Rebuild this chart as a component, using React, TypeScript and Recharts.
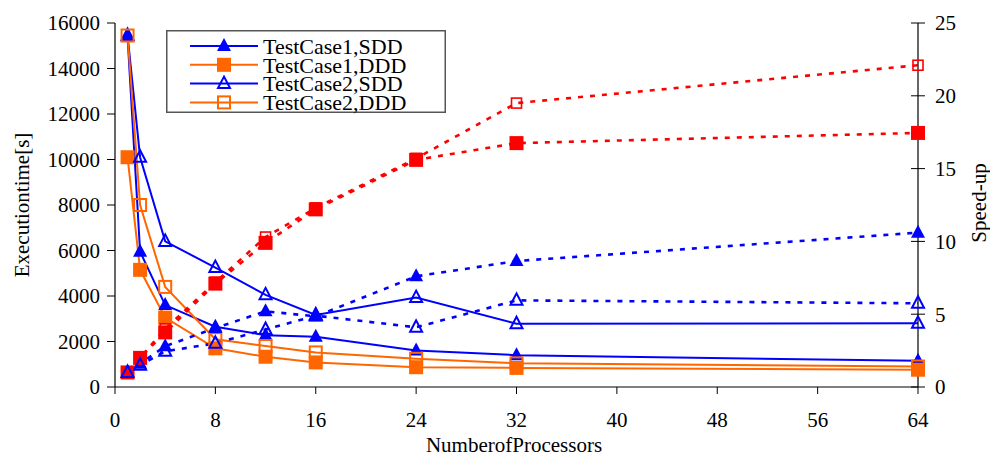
import React from "react"
import { LineChart, Line, XAxis, YAxis, Legend } from "recharts"

const FONT = '"Liberation Serif", "Times New Roman", serif'
const BLUE = "#0000ff"
const ORANGE = "#ff6600"
const RED = "#ff0000"

// number of processors
const PROCS = [1, 2, 4, 8, 12, 16, 24, 32, 64]

// execution time [s] (left axis)
const TIME_TC1_SDD = [15400, 5950, 3600, 2650, 2280, 2210, 1600, 1400, 1150]
const TIME_TC1_DDD = [10100, 5150, 3050, 1700, 1330, 1080, 870, 840, 760]
const TIME_TC2_SDD = [15450, 10100, 6400, 5250, 4050, 3170, 3930, 2780, 2800]
const TIME_TC2_DDD = [15450, 8000, 4400, 2100, 1800, 1520, 1240, 1040, 900]

// speed-up (right axis)
const SPEED_TC1_SDD = [1, 1.6, 2.8, 4.05, 5.2, 4.85, 7.6, 8.65, 10.6]
const SPEED_TC2_SDD = [1, 1.5, 2.45, 3.0, 3.95, 4.9, 4.1, 5.95, 5.75]
const SPEED_TC1_DDD = [1, 2.0, 3.75, 7.1, 9.9, 12.2, 15.6, 16.75, 17.45]
const SPEED_TC2_DDD = [1, 2.0, 4.0, 7.2, 10.3, 12.3, 15.7, 19.5, 22.1]

const X_TICKS = [0, 8, 16, 24, 32, 40, 48, 56, 64]
const LEFT_TICKS = [0, 2000, 4000, 6000, 8000, 10000, 12000, 14000, 16000]
const RIGHT_TICKS = [0, 5, 10, 15, 20, 25]

const data = PROCS.map((p, i) => ({
  p,
  t1sdd: TIME_TC1_SDD[i],
  t1ddd: TIME_TC1_DDD[i],
  t2sdd: TIME_TC2_SDD[i],
  t2ddd: TIME_TC2_DDD[i],
  s1sdd: SPEED_TC1_SDD[i],
  s2sdd: SPEED_TC2_SDD[i],
  s1ddd: SPEED_TC1_DDD[i],
  s2ddd: SPEED_TC2_DDD[i],
}))

type Marker = "tri" | "triOpen" | "sq" | "sqOpen" | "sqSmall"

function shape(m: Marker, cx: number, cy: number, color: string, key?: any) {
  if (m === "tri")
    return <path key={key} d={`M${cx},${cy - 8}L${cx - 7},${cy + 5}L${cx + 7},${cy + 5}Z`} fill={color} stroke="none" />
  if (m === "triOpen")
    return <path key={key} d={`M${cx},${cy - 7}L${cx - 6},${cy + 4.5}L${cx + 6},${cy + 4.5}Z`} fill="none" stroke={color} strokeWidth={2} />
  if (m === "sq")
    return <rect key={key} x={cx - 7} y={cy - 7} width={14} height={14} fill={color} />
  if (m === "sqOpen")
    return <rect key={key} x={cx - 6} y={cy - 6} width={12} height={12} fill="none" stroke={color} strokeWidth={2} />
  return <rect key={key} x={cx - 5} y={cy - 5} width={10} height={10} fill="none" stroke={color} strokeWidth={1.6} />
}

const dotOf = (m: Marker, color: string) => (props: any) => shape(m, props.cx, props.cy, color, props.index)

// drawing order: time curves first, speed-up on top
const SERIES = [
  { key: "t1sdd", name: "TestCase1,SDD", axis: "left", color: BLUE, dashed: false, marker: "tri" as Marker },
  { key: "t1ddd", name: "TestCase1,DDD", axis: "left", color: ORANGE, dashed: false, marker: "sq" as Marker },
  { key: "t2sdd", name: "TestCase2,SDD", axis: "left", color: BLUE, dashed: false, marker: "triOpen" as Marker },
  { key: "t2ddd", name: "TestCase2,DDD", axis: "left", color: ORANGE, dashed: false, marker: "sqOpen" as Marker },
  { key: "s1sdd", name: "", axis: "right", color: BLUE, dashed: true, marker: "tri" as Marker },
  { key: "s2ddd", name: "", axis: "right", color: RED, dashed: true, marker: "sqSmall" as Marker },
  { key: "s1ddd", name: "", axis: "right", color: RED, dashed: true, marker: "sq" as Marker },
  { key: "s2sdd", name: "", axis: "right", color: BLUE, dashed: true, marker: "triOpen" as Marker },
]

function LegendBox() {
  const rows = SERIES.filter((s) => s.name)
  return (
    <svg width={280} height={92} style={{ display: "block", overflow: "visible" }}>
      <rect x={0.75} y={0.75} width={278.5} height={81.5} fill="#fff" stroke="#555" strokeWidth={1.5} />
      {rows.map((s, i) => {
        const y = 16 + i * 18.8
        return (
          <g key={s.key}>
            <line x1={24} x2={92} y1={y} y2={y} stroke={s.color} strokeWidth={2} />
            {shape(s.marker, 58, y, s.color)}
            <text x={97} y={y} dy="0.35em" fontSize={22} fontFamily={FONT} fill="#000">{s.name}</text>
          </g>
        )
      })}
    </svg>
  )
}

function RightTick({ x, y, payload }: any) {
  return (
    <g>
      <line x1={x - 7} x2={x + 7} y1={y} y2={y} stroke="#000" strokeWidth={1} />
      <text x={x + 17} y={y} dy="0.35em" fontSize={21} fontFamily={FONT} fill="#000">{payload.value}</text>
    </g>
  )
}

const tickStyle = { fill: "#000", fontSize: 21, fontFamily: FONT }

export default function App() {
  return (
    <div style={{ position: "absolute", left: 0, top: 0, background: "#fff" }}>
      <LineChart width={990} height={462} data={data} margin={{ top: 23, right: 0, bottom: 30, left: 0 }}>
        <XAxis
          dataKey="p" type="number" domain={[0, 64]} ticks={X_TICKS} interval={0}
          axisLine={{ stroke: "#000", strokeWidth: 1.2 }} tickLine={{ stroke: "#000" }}
          tickSize={7} tickMargin={18} tick={tickStyle} height={45}
          label={{
            content: () => (
              <text x={514} y={445} dy="0.35em" textAnchor="middle" fontSize={21} fontFamily={FONT} fill="#000">
                NumberofProcessors
              </text>
            ),
          }}
        />
        <YAxis
          yAxisId="left" domain={[0, 16000]} ticks={LEFT_TICKS} interval={0} width={115}
          axisLine={{ stroke: "#000", strokeWidth: 1.2 }} tickLine={{ stroke: "#000" }}
          tickSize={8} tickMargin={7} tick={tickStyle}
          label={{
            content: () => (
              <text x={22} y={205} dy="0.35em" textAnchor="middle" fontSize={21} fontFamily={FONT} fill="#000"
                transform="rotate(-90 22 205)">
                Executiontime[s]
              </text>
            ),
          }}
        />
        <YAxis
          yAxisId="right" orientation="right" domain={[0, 25]} ticks={RIGHT_TICKS} interval={0} width={72}
          axisLine={{ stroke: "#000", strokeWidth: 1.2 }} tickLine={false}
          tickSize={0} tickMargin={0} tick={<RightTick />}
          label={{
            content: () => (
              <text x={979} y={203} dy="0.35em" textAnchor="middle" fontSize={21} fontFamily={FONT} fill="#000"
                transform="rotate(-90 979 203)">
                Speed-up
              </text>
            ),
          }}
        />
        <Legend
          layout="vertical" align="center" verticalAlign="middle"
          wrapperStyle={{ left: 166, top: 30, width: 280, height: 92 }}
          content={() => <LegendBox />}
        />
        {SERIES.map((s) => (
          <Line
            key={s.key}
            yAxisId={s.axis}
            dataKey={s.key}
            name={s.name || s.key}
            type="linear"
            stroke={s.color}
            strokeWidth={s.dashed ? 2.6 : 2}
            strokeDasharray={s.dashed ? "5 7" : undefined}
            dot={dotOf(s.marker, s.color)}
            activeDot={false}
            isAnimationActive={false}
            legendType="none"
          />
        ))}
      </LineChart>
    </div>
  )
}
